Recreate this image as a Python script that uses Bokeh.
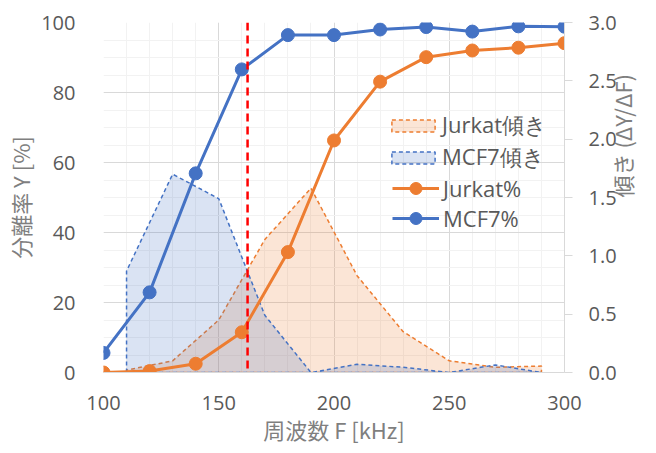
import math
from bokeh.plotting import figure
from bokeh.models import (Range1d, LinearAxis, FixedTicker, Span, Legend,
                          LegendItem, PrintfTickFormatter)
from bokeh.embed import file_html
from bokeh.resources import INLINE

# ---- data ----
freq = [100, 120, 140, 160, 180, 200, 220, 240, 260, 280, 300]
mcf7_pct = [5.6, 22.9, 56.9, 86.6, 96.4, 96.4, 98.0, 98.7, 97.4, 98.9, 98.8]
jurkat_pct = [0.0, 0.4, 2.5, 11.5, 34.4, 66.3, 83.1, 90.1, 92.0, 92.8, 94.1]

slope_freq = [110, 130, 150, 170, 190, 210, 230, 250, 270, 290]
jurkat_slope = [0.02, 0.10, 0.45, 1.14, 1.58, 0.83, 0.35, 0.10, 0.045, 0.055]
mcf7_slope = [0.87, 1.70, 1.49, 0.49, 0.0, 0.07, 0.045, 0.0, 0.065, 0.0]

threshold_freq = 162.5

x_ticks = [100, 150, 200, 250, 300]
x_minor = list(range(100, 301, 10))
y_ticks = [0, 20, 40, 60, 80, 100]
y_minor = list(range(0, 101, 5))
y2_ticks = [0.0, 0.5, 1.0, 1.5, 2.0, 2.5, 3.0]

labels_area = ["Jurkat傾き", "MCF7傾き"]
labels_line = ["Jurkat%", "MCF7%"]

ORANGE = "#ED7D31"
BLUE = "#4472C4"
TICK_COLOR = "#595959"
TITLE_COLOR = "#7F7F7F"
TICK_FONT = "Open Sans"
CJK_FONT = "Noto Sans CJK JP"

p = figure(width=656, height=453, output_backend="svg", toolbar_location=None,
           x_range=Range1d(100, 300), y_range=Range1d(0, 100),
           min_border_left=103, min_border_right=92, min_border_top=22,
           min_border_bottom=81,
           x_axis_label="周波数 F [kHz]", y_axis_label="分離率 Y [%]")
p.outline_line_color = None
p.extra_y_ranges = {"slope": Range1d(0, 3)}

xt = FixedTicker(ticks=x_ticks, minor_ticks=x_minor)
yt = FixedTicker(ticks=y_ticks, minor_ticks=y_minor)
left = p.left[0]
bottom = p.below[0]
bottom.ticker = xt
left.ticker = yt
p.xgrid.ticker = xt
p.ygrid.ticker = yt
for g in (p.xgrid, p.ygrid):
    g.grid_line_color = "#D9D9D9"
    g.minor_grid_line_color = "#F2F2F2"
    g.grid_line_width = 1
    g.minor_grid_line_width = 1

right = LinearAxis(y_range_name="slope", axis_label="傾き (ΔY/ΔF)",
                   ticker=FixedTicker(ticks=y2_ticks, minor_ticks=[]),
                   formatter=PrintfTickFormatter(format="%.1f"))
p.add_layout(right, "right")

for ax in (left, bottom, right):
    ax.major_label_text_font = TICK_FONT
    ax.major_label_text_font_size = "20px"
    ax.major_label_text_color = TICK_COLOR
    ax.axis_label_text_font = CJK_FONT
    ax.axis_label_text_font_size = "22px"
    ax.axis_label_text_font_style = "normal"
    ax.axis_label_text_color = TITLE_COLOR
    ax.minor_tick_line_color = None
    ax.minor_tick_out = 0
    ax.minor_tick_in = 0
    ax.major_tick_in = 0

left.axis_line_color = None
left.major_tick_line_color = None
left.major_tick_out = 0
left.major_label_standoff = 28
left.axis_label_standoff = 2

bottom.axis_line_color = "#D9D9D9"
bottom.major_tick_line_color = None
bottom.major_tick_out = 0
bottom.major_label_standoff = 23
bottom.axis_label_standoff = 0

right.axis_line_color = "#D9D9D9"
right.major_tick_line_color = "#D9D9D9"
right.major_tick_out = 8
right.major_label_standoff = 16
right.axis_label_standoff = 2
right.axis_label_orientation = math.pi / 2

# ---- slope areas ----
jx = [slope_freq[0]] + slope_freq + [slope_freq[-1]]
jy = [0] + jurkat_slope + [0]
mx = [slope_freq[0]] + slope_freq + [slope_freq[-1]]
my = [0] + mcf7_slope + [0]

orange_area = p.patch(jx, jy, y_range_name="slope", fill_color=ORANGE,
                      fill_alpha=0.2, line_color=ORANGE, line_width=1.5,
                      line_dash="4 3")
blue_area = p.patch(mx, my, y_range_name="slope", fill_color=BLUE,
                    fill_alpha=0.2, line_color=BLUE, line_width=1.5,
                    line_dash="4 3")

# ---- percentage lines ----
jl = p.line(freq, jurkat_pct, line_color=ORANGE, line_width=3)
js = p.scatter(freq, jurkat_pct, size=13, fill_color=ORANGE, line_color=ORANGE)
ml = p.line(freq, mcf7_pct, line_color=BLUE, line_width=3)
ms = p.scatter(freq, mcf7_pct, size=13, fill_color=BLUE, line_color=BLUE)

p.add_layout(Span(location=threshold_freq, dimension="height",
                  line_color="#FF0000", line_width=2.5, line_dash="8 5"))

common = dict(padding=0, margin=0, border_line_alpha=0,
              background_fill_alpha=0, label_text_font_size="22px",
              label_text_color=TICK_COLOR,
              label_text_font=TICK_FONT)

leg1 = Legend(items=[LegendItem(label=labels_area[0], renderers=[orange_area]),
                     LegendItem(label=labels_area[1], renderers=[blue_area])],
              location=(283, 199), glyph_width=54, glyph_height=15,
              label_standoff=2, spacing=0, **common)
leg2 = Legend(items=[LegendItem(label=labels_line[0], renderers=[jl, js]),
                     LegendItem(label=labels_line[1], renderers=[ml, ms])],
              location=(289, 139), glyph_width=47, glyph_height=30,
              label_standoff=4, spacing=0, **common)
p.add_layout(leg1)
p.add_layout(leg2)

open("out.html", "w").write(file_html(p, INLINE))
